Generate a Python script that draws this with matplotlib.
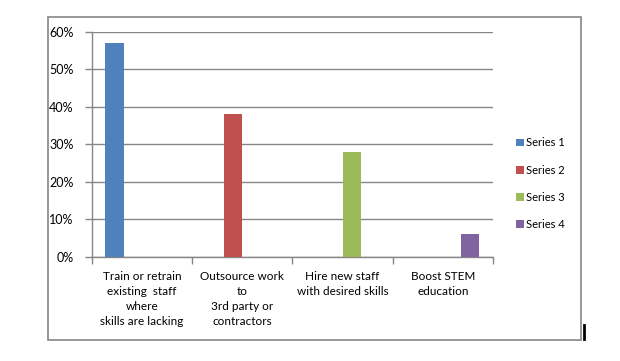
import matplotlib.pyplot as plt
import numpy as np
from matplotlib.patches import Rectangle
from matplotlib.lines import Line2D

plt.rcParams['font.family'] = ['Lato', 'DejaVu Sans']

categories = ["Train or retrain\nexisting  staff\nwhere\nskills are lacking",
              "Outsource work\nto\n3rd party or\ncontractors",
              "Hire new staff\nwith desired skills",
              "Boost STEM\neducation"]
series_names = ["Series 1", "Series 2", "Series 3", "Series 4"]
series_values = [
    [57, 0, 0, 0],
    [0, 38, 0, 0],
    [0, 0, 28, 0],
    [0, 0, 0, 6],
]
colors = ["#4F81BD", "#C0504D", "#9BBB59", "#8064A2"]
yticks = [0, 10, 20, 30, 40, 50, 60]

fig = plt.figure(figsize=(6.2, 3.61), dpi=100)
ax = fig.add_axes([91.7 / 620, 1 - 257 / 361, (493 - 91.7) / 620, (257 - 31.7) / 361])

# outer chart border
fig.patches.append(Rectangle((48 / 620, 1 - 340 / 361), 533 / 620, 323 / 361,
                             transform=fig.transFigure, fill=False,
                             edgecolor="#868686", linewidth=1.2))
# stray cursor mark at right
fig.lines.append(Line2D([584 / 620, 584 / 620], [1 - 339 / 361, 1 - 325 / 361],
                        transform=fig.transFigure, color="black", linewidth=2))

x = np.arange(len(categories))
w = 1 / 5.5
for i, (name, vals) in enumerate(zip(series_names, series_values)):
    ax.bar(x + (i - 1.5) * w, vals, width=w, color=colors[i], label=name, zorder=3)

ax.set_xlim(-0.5, len(categories) - 0.5)
ax.set_ylim(0, 60)
ax.set_yticks(yticks)
ax.set_yticklabels([f"{v}%" for v in yticks], fontsize=9)
ax.yaxis.grid(True, color="#868686", linewidth=1)
ax.set_axisbelow(True)

ax.set_xticks(x)
ax.set_xticklabels(categories, fontsize=8.5, linespacing=1.45, va="top")
ax.tick_params(axis="x", which="major", length=0, pad=10)
ax.set_xticks(np.arange(-0.5, len(categories)), minor=True)
ax.tick_params(axis="x", which="minor", length=5, color="#868686", width=1)
ax.tick_params(axis="y", length=5, color="#868686", width=1, pad=8)

for s in ["top", "right"]:
    ax.spines[s].set_visible(False)
for s in ["left", "bottom"]:
    ax.spines[s].set_color("#868686")
    ax.spines[s].set_linewidth(1)

leg = fig.legend(loc="upper left", bbox_to_anchor=(512 / 620, 1 - 133 / 361),
                 frameon=False, fontsize=8, handlelength=0.7, handleheight=0.7,
                 handletextpad=0.2, labelspacing=1.45, borderaxespad=0)

fig.savefig("out.png", dpi=100)
